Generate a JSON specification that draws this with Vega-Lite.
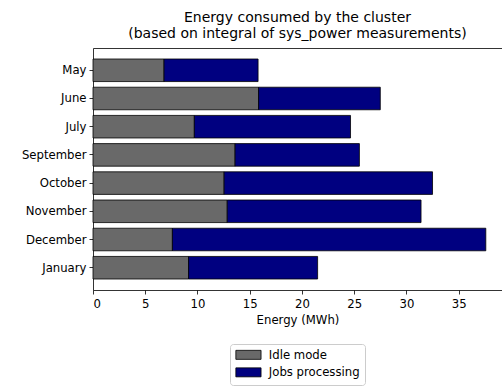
{
  "$schema": "https://vega.github.io/schema/vega-lite/v6.json",
  "width": 409,
  "height": 242,
  "autosize": {"type": "none"},
  "padding": {"left": 93, "top": 48, "right": 0, "bottom": 101},
  "background": "white",
  "title": {
    "text": ["Energy consumed by the cluster", "(based on integral of sys_power measurements)"],
    "anchor": "middle",
    "frame": "group",
    "font": "DejaVu Sans",
    "fontSize": 14,
    "fontWeight": "normal",
    "color": "black",
    "lineHeight": 16,
    "offset": 7
  },
  "data": {
    "values": [
      {"Month": "May", "Mode": "Idle mode", "Energy": 6.8},
      {"Month": "May", "Mode": "Jobs processing", "Energy": 9.0},
      {"Month": "June", "Mode": "Idle mode", "Energy": 15.85},
      {"Month": "June", "Mode": "Jobs processing", "Energy": 11.65},
      {"Month": "July", "Mode": "Idle mode", "Energy": 9.7},
      {"Month": "July", "Mode": "Jobs processing", "Energy": 14.95},
      {"Month": "September", "Mode": "Idle mode", "Energy": 13.6},
      {"Month": "September", "Mode": "Jobs processing", "Energy": 11.9},
      {"Month": "October", "Mode": "Idle mode", "Energy": 12.55},
      {"Month": "October", "Mode": "Jobs processing", "Energy": 19.95},
      {"Month": "November", "Mode": "Idle mode", "Energy": 12.85},
      {"Month": "November", "Mode": "Jobs processing", "Energy": 18.55},
      {"Month": "December", "Mode": "Idle mode", "Energy": 7.6},
      {"Month": "December", "Mode": "Jobs processing", "Energy": 30.0},
      {"Month": "January", "Mode": "Idle mode", "Energy": 9.15},
      {"Month": "January", "Mode": "Jobs processing", "Energy": 12.35}
    ]
  },
  "layer": [
    {
      "mark": {"type": "bar", "stroke": "black", "strokeWidth": 0.8},
      "encoding": {
        "y": {
          "field": "Month",
          "type": "nominal",
          "sort": ["May", "June", "July", "September", "October", "November", "December", "January"],
          "scale": {"paddingInner": 0.2, "paddingOuter": 0.39},
          "axis": {"title": null}
        },
        "x": {
          "field": "Energy",
          "type": "quantitative",
          "aggregate": "sum",
          "stack": "zero",
          "scale": {"domain": [0, 39.15], "nice": false},
          "axis": {
            "orient": "bottom",
            "values": [0, 5, 10, 15, 20, 25, 30, 35],
            "title": "Energy (MWh)",
            "labelPadding": 4.5,
            "titlePadding": 4.5
          }
        },
        "color": {
          "field": "Mode",
          "type": "nominal",
          "scale": {"domain": ["Idle mode", "Jobs processing"], "range": ["#696969", "#000080"]},
          "legend": {"title": null}
        },
        "order": {"field": "Mode", "sort": "ascending"}
      }
    },
    {
      "mark": {"type": "point", "opacity": 0},
      "encoding": {
        "x": {
          "field": "Energy",
          "type": "quantitative",
          "axis": {"orient": "top", "labels": false, "ticks": false, "title": null, "domain": true}
        }
      }
    }
  ],
  "resolve": {"axis": {"x": "independent"}},
  "config": {
    "view": {"stroke": null},
    "font": "DejaVu Sans",
    "axis": {
      "grid": false,
      "domainColor": "black",
      "domainWidth": 0.8,
      "tickColor": "black",
      "tickWidth": 0.8,
      "tickSize": 4,
      "labelPadding": 3,
      "labelFont": "DejaVu Sans",
      "labelFontSize": 11.7,
      "labelColor": "black",
      "titleFont": "DejaVu Sans",
      "titleFontSize": 11.7,
      "titleFontWeight": "normal",
      "titleColor": "black"
    },
    "legend": {
      "orient": "none",
      "legendX": 137,
      "legendY": 296,
      "direction": "vertical",
      "padding": 5,
      "strokeColor": "#cccccc",
      "fillColor": "white",
      "cornerRadius": 3,
      "symbolType": "M-2.8,-1H2.8V1H-2.8Z",
      "symbolSize": 81,
      "symbolOffset": 7.6,
      "symbolStrokeColor": "black",
      "symbolStrokeWidth": 0.8,
      "symbolOpacity": 1,
      "labelOffset": 14.5,
      "labelFont": "DejaVu Sans",
      "labelFontSize": 11.7,
      "labelColor": "black",
      "rowPadding": 3.5
    }
  }
}
